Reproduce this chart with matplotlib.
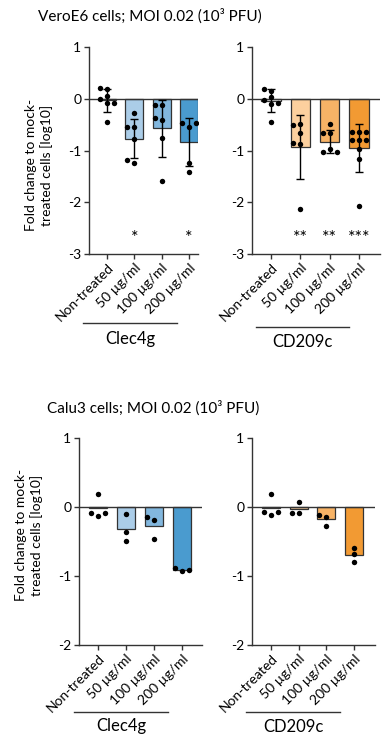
import matplotlib
matplotlib.use("Agg")
import matplotlib.pyplot as plt
from matplotlib.lines import Line2D
import numpy as np

plt.rcParams['font.family'] = ['Lato', 'DejaVu Sans']
plt.rcParams['axes.unicode_minus'] = False

# ---- data ----
categories = ['Non-treated', '50 µg/ml', '100 µg/ml', '200 µg/ml']

vero_clec_pts = [
    [0.18, 0.21, 0.05, 0.0, -0.08, -0.08, -0.45],
    [-0.28, -0.55, -0.55, -0.77, -1.24, -1.18],
    [-0.12, -0.12, -0.41, -0.37, -0.75, -1.59],
    [-0.55, -0.46, -0.47, -1.24, -1.41],
]
vero_clec_mean = [-0.03, -0.77, -0.57, -0.83]
vero_clec_sd = [0.22, 0.38, 0.55, 0.46]
vero_clec_sig = ['', '*', '', '*']

vero_cd_pts = [
    [0.15, 0.18, 0.03, -0.02, -0.11, -0.08, -0.45],
    [-0.48, -0.51, -0.66, -0.87, -0.85, -2.14],
    [-0.48, -0.66, -0.66, -0.97, -1.03, -1.02],
    [-0.65, -0.65, -0.65, -0.80, -0.80, -0.80, -0.98, -1.17, -2.07],
]
vero_cd_mean = [-0.04, -0.94, -0.83, -0.95]
vero_cd_sd = [0.22, 0.62, 0.22, 0.46]
vero_cd_sig = ['', '**', '**', '***']

calu_clec_pts = [
    [0.19, -0.13, -0.08, -0.08],
    [-0.10, -0.36, -0.49],
    [-0.19, -0.15, -0.46],
    [-0.93, -0.88, -0.91],
]
calu_clec_mean = [-0.02, -0.32, -0.27, -0.91]

calu_cd_pts = [
    [0.19, -0.12, -0.07, -0.07],
    [0.07, -0.08, -0.08],
    [-0.15, -0.12, -0.27],
    [-0.60, -0.68, -0.80],
]
calu_cd_mean = [-0.02, -0.03, -0.18, -0.69]

clec_colors = ['white', '#abcde8', '#82b7de', '#4a9bcf']
cd_colors = ['white', '#fcd09e', '#f7b366', '#f29a33']

W, H = 391, 740
fig = plt.figure(figsize=(W / 100, H / 100), dpi=100)


def px_axes(x0, y_top, x1, y_bot):
    return fig.add_axes([x0 / W, 1 - y_bot / H, (x1 - x0) / W, (y_bot - y_top) / H])


def swarm_offsets(ax, vals, dot_px=5.4, step_px=7.0):
    # simple greedy beeswarm in pixel space
    p0 = ax.transData.transform((0, 0))
    p1 = ax.transData.transform((1, 1))
    ppx, ppy = p1[0] - p0[0], p1[1] - p0[1]
    placed = []
    offs = []
    for v in vals:
        y = v * ppy
        for k in [0, -1, 1, -2, 2, -3, 3]:
            x = k * step_px
            if all((x - a) ** 2 + (y - b) ** 2 >= dot_px ** 2 for a, b in placed):
                break
        placed.append((x, y))
        offs.append(x / ppx)
    return offs


def panel(ax, pts, means, colors, ylim, xlim, sd=None, sig=None):
    x = np.arange(len(categories))
    ax.set_xlim(*xlim)
    ax.set_ylim(*ylim)
    ax.bar(x, means, width=0.66, color=colors, edgecolor='#333333', linewidth=0.9, zorder=2)
    ax.axhline(0, color='#333333', lw=1.0, zorder=2.5)
    if sd is not None:
        ax.errorbar(x, means, yerr=sd, fmt='none', ecolor='black', elinewidth=1.0,
                    capsize=3, capthick=1.0, zorder=3)
    for i, vals in enumerate(pts):
        offs = swarm_offsets(ax, vals)
        ax.plot(x[i] + np.array(offs), vals, 'o', color='black', ms=3.9, mec='none', zorder=4)
    if sig is not None:
        for i, s in enumerate(sig):
            if s:
                ax.text(x[i], -2.7, s, ha='center', va='center', fontsize=13)
    for s in ['top', 'right']:
        ax.spines[s].set_visible(False)
    for s in ['left', 'bottom']:
        ax.spines[s].set_color('#333333')
        ax.spines[s].set_linewidth(1.0)
    ax.set_yticks(np.arange(ylim[0], ylim[1] + 1))
    ax.set_xticks(x)
    ax.set_xticklabels(categories, rotation=45, ha='right', rotation_mode='anchor', fontsize=10)
    ax.tick_params(axis='both', direction='out', length=3.5, width=1.0, color='#333333',
                   labelsize=10, pad=2)


ax1 = px_axes(89, 47, 198, 254)
panel(ax1, vero_clec_pts, vero_clec_mean, clec_colors, (-3, 1), (-0.66, 3.33),
      vero_clec_sd, vero_clec_sig)
ax2 = px_axes(252, 47, 380, 254)
panel(ax2, vero_cd_pts, vero_cd_mean, cd_colors, (-3, 1), (-0.65, 3.72),
      vero_cd_sd, vero_cd_sig)
ax3 = px_axes(79, 438, 202, 645)
panel(ax3, calu_clec_pts, calu_clec_mean, clec_colors, (-2, 1), (-0.68, 3.72))
ax4 = px_axes(252, 438, 375, 645)
panel(ax4, calu_cd_pts, calu_cd_mean, cd_colors, (-2, 1), (-0.69, 3.76))

ylab = 'Fold change to mock-\ntreated cells [log10]'
fig.text(39 / W, 1 - 165 / H, ylab, rotation=90, ha='center', va='center', fontsize=10,
         multialignment='center', linespacing=1.2)
fig.text(29 / W, 1 - 535 / H, ylab, rotation=90, ha='center', va='center', fontsize=10,
         multialignment='center', linespacing=1.2)

fig.text(38 / W, 1 - 16 / H, 'VeroE6 cells; MOI 0.02 (10³ PFU)', ha='left', va='center', fontsize=11)
fig.text(47 / W, 1 - 408 / H, 'Calu3 cells; MOI 0.02 (10³ PFU)', ha='left', va='center', fontsize=11)

# group labels under the x tick labels
groups = [
    (83, 177, 323, 339, 'Clec4g'),
    (256, 349, 327, 342, 'CD209c'),
    (74, 168, 712, 726, 'Clec4g'),
    (246, 340, 712, 727, 'CD209c'),
]
for xa, xb, yl, yt, name in groups:
    fig.add_artist(Line2D([xa / W, xb / W], [1 - yl / H, 1 - yl / H], color='#333333', lw=1.0))
    fig.text((xa + xb) / 2 / W, 1 - yt / H, name, ha='center', va='center', fontsize=12)

fig.savefig('out.png', dpi=100, facecolor='white')
